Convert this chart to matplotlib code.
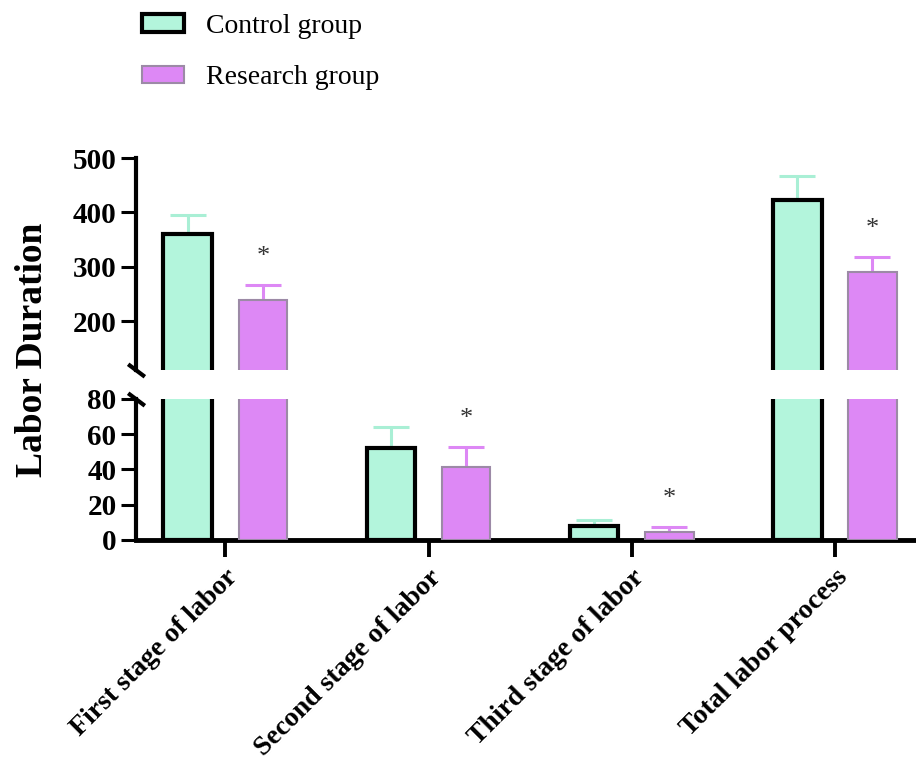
import matplotlib.pyplot as plt
import numpy as np
from matplotlib.patches import Patch

categories = ['First stage of labor', 'Second stage of labor',
              'Third stage of labor', 'Total labor process']
control_mean = [360, 52, 8, 423]
control_sd = [35, 12, 3.5, 44]
research_mean = [238, 41.5, 4.5, 290]
research_sd = [28, 11.5, 3, 28]
groups = ['Control group', 'Research group']

mint = '#b3f5dc'
mint_err = '#a9efd5'
violet = '#dd88f5'
violet_edge = '#9c8aa6'

plt.rcParams['font.family'] = ['Liberation Serif', 'DejaVu Serif']

fig = plt.figure(figsize=(9.16, 7.67), dpi=100)
left, right = 0.1485, 1.0
ax_top = fig.add_axes([left, 0.5176, right - left, 0.794 - 0.5176])
ax_bot = fig.add_axes([left, 0.296, right - left, 0.4798 - 0.296], sharex=ax_top)

x = np.arange(len(categories))
off = 0.185
w = 0.24
err = dict(elinewidth=2.2, capsize=13, capthick=2.2, fmt='none', zorder=2)

for ax in (ax_top, ax_bot):
    ax.bar(x - off, control_mean, w, color=mint, edgecolor='black', linewidth=3, zorder=3)
    ax.bar(x + off, research_mean, w, color=violet, edgecolor=violet_edge, linewidth=1.5,
           zorder=3)
    ax.errorbar(x - off, control_mean, yerr=[np.zeros(4), control_sd], ecolor=mint_err, **err)
    ax.errorbar(x + off, research_mean, yerr=[np.zeros(4), research_sd], ecolor=violet, **err)
    for sp in ('top', 'right'):
        ax.spines[sp].set_visible(False)
    ax.spines['left'].set_linewidth(3)
    ax.tick_params(axis='y', length=11, width=2.2, labelsize=21, pad=3)

ax_top.set_ylim(110, 500)
ax_top.set_yticks([200, 300, 400, 500])
ax_top.spines['bottom'].set_visible(False)
ax_top.tick_params(axis='x', bottom=False, labelbottom=False)

ax_bot.set_ylim(0, 80)
ax_bot.set_yticks([0, 20, 40, 60, 80])
ax_bot.spines['bottom'].set_linewidth(3.5)
ax_bot.set_xlim(-0.44, 3.40)
ax_bot.set_xticks(x)
ax_bot.set_xticklabels(categories, rotation=45, ha='right', rotation_mode='anchor',
                       fontsize=20, fontweight='bold')
ax_bot.tick_params(axis='x', length=12, width=2.8, pad=6)
for ax in (ax_top, ax_bot):
    for lab in ax.get_yticklabels():
        lab.set_fontweight('bold')

# break marks
kw = dict(marker=[(-1, 0.75), (1, -0.75)], markersize=12, linestyle='none',
          color='black', mec='black', mew=3, clip_on=False)
ax_top.plot([0], [0], transform=ax_top.transAxes, **kw)
ax_bot.plot([0], [1], transform=ax_bot.transAxes, **kw)

# significance marks
for i in range(len(categories)):
    top = research_mean[i] + research_sd[i]
    ax = ax_top if research_mean[i] > 80 else ax_bot
    ax.annotate('*', xy=(x[i] + off, top), xytext=(0, 20), textcoords='offset points',
                ha='center', va='center', fontsize=19, color='#333333')

fig.text(0.035, 0.544, 'Labor Duration', rotation=90, ha='center', va='center',
         fontsize=27, fontweight='bold')

handles = [Patch(facecolor=mint, edgecolor='black', linewidth=3),
           Patch(facecolor=violet, edgecolor=violet_edge, linewidth=1.5)]
fig.legend(handles, groups, loc='upper left', bbox_to_anchor=(0.155, 0.982),
           frameon=False, fontsize=20, handlelength=1.5, handleheight=0.6,
           handletextpad=0.8, labelspacing=0.95, borderpad=0, borderaxespad=0)

fig.savefig('out.png', dpi=100)
